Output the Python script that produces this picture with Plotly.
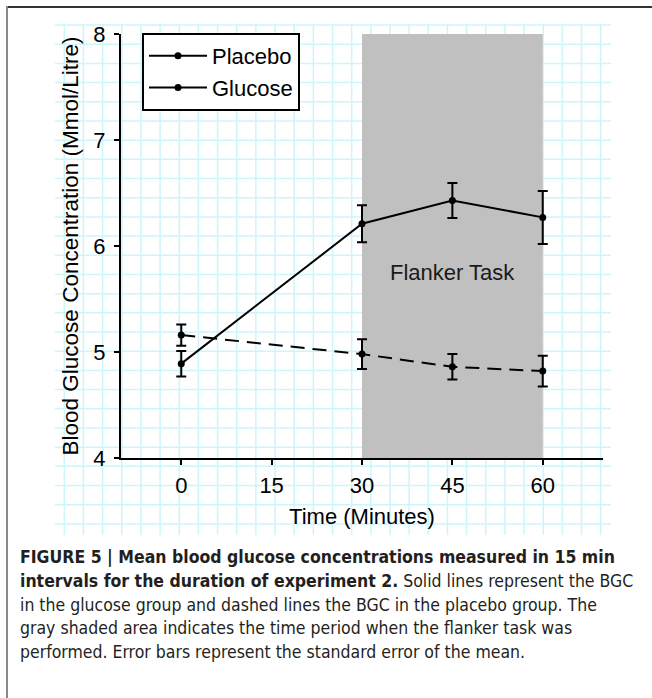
import plotly.graph_objects as go

# ---- data ----
times = [0, 30, 45, 60]
placebo = [5.16, 4.98, 4.86, 4.82]
placebo_se = [0.10, 0.14, 0.12, 0.145]
glucose = [4.89, 6.21, 6.43, 6.27]
glucose_se = [0.12, 0.175, 0.165, 0.25]
x_ticks = [0, 15, 30, 45, 60]
y_ticks = [4, 5, 6, 7, 8]
task_start, task_end = 30, 60
task_label = "Flanker Task"
x_title = "Time (Minutes)"
y_title = "Blood Glucose Concentration (Mmol/Litre)"
caption_lines = [
    "<b>FIGURE 5 | Mean blood glucose concentrations measured in 15 min</b>",
    "<b>intervals for the duration of experiment 2.</b> Solid lines represent the BGC",
    "in the glucose group and dashed lines the BGC in the placebo group. The",
    "gray shaded area indicates the time period when the flanker task was",
    "performed. Error bars represent the standard error of the mean.",
]

# ---- geometry (pixels) ----
W, H = 652, 698
ML, MR, MT, MB = 55, 41, 24, 163
PW, PH = W - ML - MR, H - MT - MB


def px(xp):
    return (xp - ML) / PW


def py(yp):
    return (H - MB - yp) / PH


FONT = "Liberation Sans, Arial, Helvetica, sans-serif"
CAP_FONT = "Liberation Sans Narrow, Arial Narrow, DejaVu Sans Condensed, sans-serif"
FS = 22

fig = go.Figure()

err_style = dict(type="data", thickness=2, width=5, color="black")

fig.add_trace(go.Scatter(
    x=times, y=placebo, mode="lines+markers", name="Placebo",
    line=dict(color="black", width=2, dash="14px,8px"),
    marker=dict(color="black", size=7),
    error_y=dict(array=placebo_se, **err_style),
    showlegend=False,
))
fig.add_trace(go.Scatter(
    x=times, y=glucose, mode="lines+markers", name="Glucose",
    line=dict(color="black", width=2),
    marker=dict(color="black", size=7),
    error_y=dict(array=glucose_se, **err_style),
    showlegend=False,
))
# legend proxies (solid samples as in the reference legend)
for nm in ["Placebo", "Glucose"]:
    fig.add_trace(go.Scatter(
        x=[None], y=[None], mode="lines+markers", name=nm,
        line=dict(color="black", width=2),
        marker=dict(color="black", size=7),
    ))

shapes = []
# graph-paper background grid
gx0, gdx = 64.3, 19.157
for k in range(29):
    xx = px(gx0 + k * gdx)
    shapes.append(dict(type="line", xref="paper", yref="paper",
                       x0=xx, x1=xx, y0=0, y1=1, layer="below",
                       line=dict(color="#ccf6fa", width=1.5)))
gy0, gdy = 25, 19.19
for k in range(27):
    yy = py(gy0 + k * gdy)
    shapes.append(dict(type="line", xref="paper", yref="paper",
                       x0=0, x1=1, y0=yy, y1=yy, layer="below",
                       line=dict(color="#ccf6fa", width=1.5)))
# shaded task period
shapes.append(dict(type="rect", xref="x", yref="y",
                   x0=task_start, x1=task_end, y0=y_ticks[0], y1=y_ticks[-1],
                   fillcolor="#c0c0c0", line=dict(width=0), layer="below"))
# outer frame (top and left)
shapes.append(dict(type="line", xref="paper", yref="paper",
                   x0=px(6), x1=px(W + 5), y0=py(7), y1=py(7),
                   line=dict(color="#333333", width=2)))
shapes.append(dict(type="line", xref="paper", yref="paper",
                   x0=px(7), x1=px(7), y0=py(6), y1=py(H + 5),
                   line=dict(color="#8a8a8a", width=2)))

annotations = [
    dict(x=(task_start + task_end) / 2, y=5.75, xref="x", yref="y",
         text=task_label, showarrow=False,
         font=dict(family=FONT, size=FS, color="#1a1a1a")),
]
cap_y0, cap_dy = 557, 23.8
for i, line in enumerate(caption_lines):
    annotations.append(dict(
        x=px(18), y=py(cap_y0 + i * cap_dy), xref="paper", yref="paper",
        xanchor="left", yanchor="middle", text=line, showarrow=False,
        font=dict(family=CAP_FONT, size=17.5, color="#231f20"),
    ))

fig.update_layout(
    width=W, height=H,
    margin=dict(l=ML, r=MR, t=MT, b=MB),
    paper_bgcolor="white", plot_bgcolor="rgba(0,0,0,0)",
    font=dict(family=FONT, size=FS, color="black"),
    shapes=shapes, annotations=annotations,
    showlegend=True,
    legend=dict(x=px(142), y=py(33), xanchor="left", yanchor="top",
                bgcolor="white", bordercolor="black", borderwidth=2,
                font=dict(family=FONT, size=FS, color="black"),
                itemwidth=58, tracegroupgap=0),
    xaxis=dict(domain=[px(121), px(603)], range=[-10, 70],
               tickvals=x_ticks, ticks="outside", ticklen=5, tickwidth=2,
               tickcolor="black", showline=True, linecolor="black", linewidth=2,
               showgrid=False, zeroline=False, ticklabelstandoff=2,
               title=dict(text=x_title, standoff=11,
                          font=dict(family=FONT, size=FS))),
    yaxis=dict(domain=[py(458), py(34)], range=[4, 8],
               tickvals=y_ticks, ticks="outside", ticklen=5, tickwidth=2,
               tickcolor="black", showline=True, linecolor="black", linewidth=2,
               showgrid=False, zeroline=False, ticklabelstandoff=4,
               title=dict(text=y_title, standoff=8,
                          font=dict(family=FONT, size=22.5))),
)

fig.write_html("out.html", config={"displayModeBar": False},
               post_script="document.body.style.margin='0';")
